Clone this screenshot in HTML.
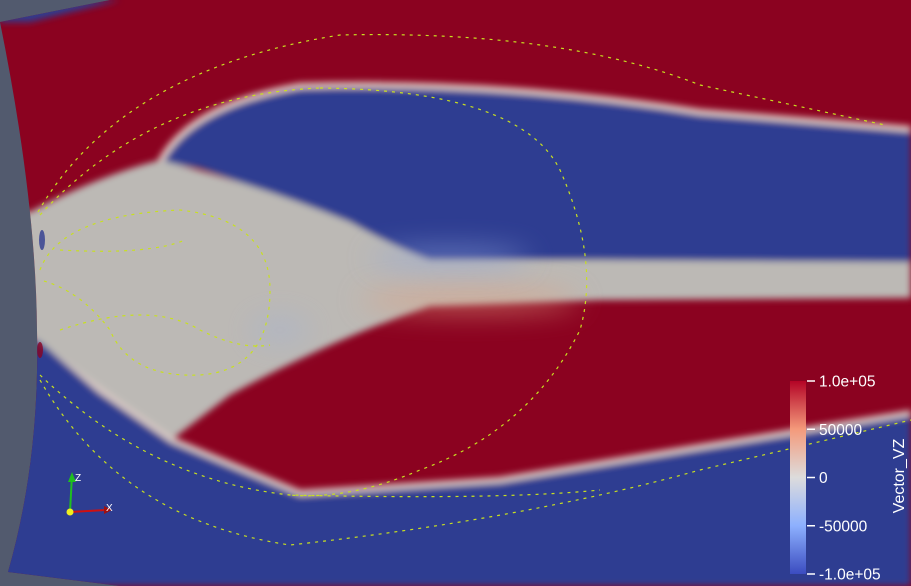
<!DOCTYPE html>
<html><head><meta charset="utf-8"><style>
html,body{margin:0;padding:0;background:#525a6e;width:911px;height:586px;overflow:hidden;}
svg{display:block;font-family:"Liberation Sans",sans-serif;}
</style></head><body>
<svg id="chart" width="911" height="586" viewBox="0 0 911 586">
<defs>
<clipPath id="dom"><path d="M0,22 L110,0 L911,0 L911,586 L120,586 L8,572 Q40,460 37,330 Q36,200 0,22 Z"/></clipPath>
<filter id="bl" filterUnits="userSpaceOnUse" x="0" y="0" width="911" height="586"><feGaussianBlur stdDeviation="3.5" edgeMode="duplicate"/></filter>
<filter id="bl2" filterUnits="userSpaceOnUse" x="0" y="0" width="911" height="586"><feGaussianBlur stdDeviation="14"/></filter>
<linearGradient id="cb" x1="0" y1="1" x2="0" y2="0">
<stop offset="0" stop-color="#3b4cc0"/><stop offset="0.25" stop-color="#8db0fe"/>
<stop offset="0.5" stop-color="#dddcdc"/><stop offset="0.75" stop-color="#f49a7b"/>
<stop offset="1" stop-color="#b40426"/></linearGradient>
</defs>
<rect width="911" height="586" fill="#525a6e"/>
<g clip-path="url(#dom)">
<rect x="0" y="0" width="911" height="586" fill="#8b0220"/>
<g filter="url(#bl)">
<path d="M37,335 L100,390 L172,440 L300,493 L500,480 L700,447 L911,413 L911,586 L0,586 L0,335 Z" fill="#2f3c91"/>
<path d="M37,335 L100,390 L172,440 L300,493 L500,480 L700,447 L911,413" fill="none" stroke="#d9c9c4" stroke-width="6"/>
<path d="M160,162 Q190,105 300,86 Q500,80 700,112 L911,129 L911,264 L600,262 L430,264 Q360,225 200,168 Z" fill="#2f3c91"/>
<path d="M160,162 Q190,105 300,86 Q500,80 700,112 L911,129" fill="none" stroke="#e0cbc3" stroke-width="6"/>
<path d="M0,212 L30,212 Q100,175 160,160 Q260,185 350,222 Q400,250 430,260 L600,260 L911,262 L911,298 L600,300 L430,306 Q330,340 230,395 L174,438 Q110,395 37,340 L0,340 Z" fill="#bcb9b5"/>
<path d="M0,0 L120,0 L30,22 L0,22 Z" fill="#2f3c91"/>
</g>
<ellipse cx="470" cy="300" rx="110" ry="12" fill="#e0a080" opacity="0.6" filter="url(#bl2)"/>
<ellipse cx="450" cy="258" rx="80" ry="10" fill="#8fa4dc" opacity="0.6" filter="url(#bl2)"/>
<ellipse cx="280" cy="330" rx="30" ry="14" fill="#9fb0d8" opacity="0.4" filter="url(#bl2)"/>
<ellipse cx="42" cy="240" rx="3" ry="10" fill="#2f3c91" opacity="0.8"/>
<ellipse cx="40" cy="350" rx="3" ry="8" fill="#8b0220" opacity="0.8"/>
</g>
<g fill="none" stroke="#c8e020" stroke-width="1.2" stroke-dasharray="3 5">
<path d="M38,212 Q120,70 340,35 Q560,30 700,85 L885,125"/>
<path d="M40,215 Q150,95 320,88"/>
<path d="M320,88 Q520,90 560,170 Q600,260 580,330 Q530,430 420,470 Q350,500 290,495"/>
<path d="M40,375 Q150,480 290,495 Q500,500 600,490"/>
<path d="M40,380 Q120,520 290,545 Q520,520 700,470 L911,420"/>
<path d="M40,270 Q60,215 180,210 Q270,220 270,290 Q270,370 200,375 Q130,378 110,330 Q80,290 40,280"/>
<path d="M60,330 Q150,300 200,330 Q240,350 270,345"/>
<path d="M60,250 Q150,255 185,240"/>
</g>
<g>
<line x1="70" y1="512" x2="72" y2="475" stroke="#1fbf1f" stroke-width="2"/>
<polygon points="72,472 68,482 76,482" fill="#1fbf1f"/>
<line x1="70" y1="512" x2="106" y2="510" stroke="#d01010" stroke-width="2"/>
<polygon points="112,510 104,506 104,514" fill="#a01010"/>
<circle cx="70" cy="512" r="3.5" fill="#f0f020"/>
<text x="75" y="481" font-size="10" fill="#fff">Z</text>
<text x="106" y="511" font-size="10" fill="#fff">X</text>
</g>
<g id="legend">
<rect x="790" y="381" width="16" height="193" fill="url(#cb)"/>
<text transform="translate(904,476) rotate(-90)" text-anchor="middle" font-size="16" fill="#fff">Vector_VZ</text>
</g>
</svg>
<script>
const tickValues = [100000, 50000, 0, -50000, -100000];
const tickLabels = ["1.0e+05", "50000", "0", "-50000", "-1.0e+05"];
const vMin = -100000, vMax = 100000;
const yTop = 381, yBot = 574;
function yScale(v){ return yBot - (v - vMin) / (vMax - vMin) * (yBot - yTop); }
const ns = "http://www.w3.org/2000/svg";
const lg = document.getElementById("legend");
tickValues.forEach((v, i) => {
  const y = yScale(v);
  const l = document.createElementNS(ns, "line");
  l.setAttribute("x1", 807); l.setAttribute("x2", 815);
  l.setAttribute("y1", y); l.setAttribute("y2", y);
  l.setAttribute("stroke", "#fff"); l.setAttribute("stroke-width", "1.5");
  
  
  lg.appendChild(l);
  const t = document.createElementNS(ns, "text");
  t.setAttribute("x", 819); t.setAttribute("y", y + 5.5);
  t.setAttribute("font-size", "15.5"); t.setAttribute("fill", "#fff");
  t.textContent = tickLabels[i];
  
  
  lg.appendChild(t);
});
</script>
</body></html>
